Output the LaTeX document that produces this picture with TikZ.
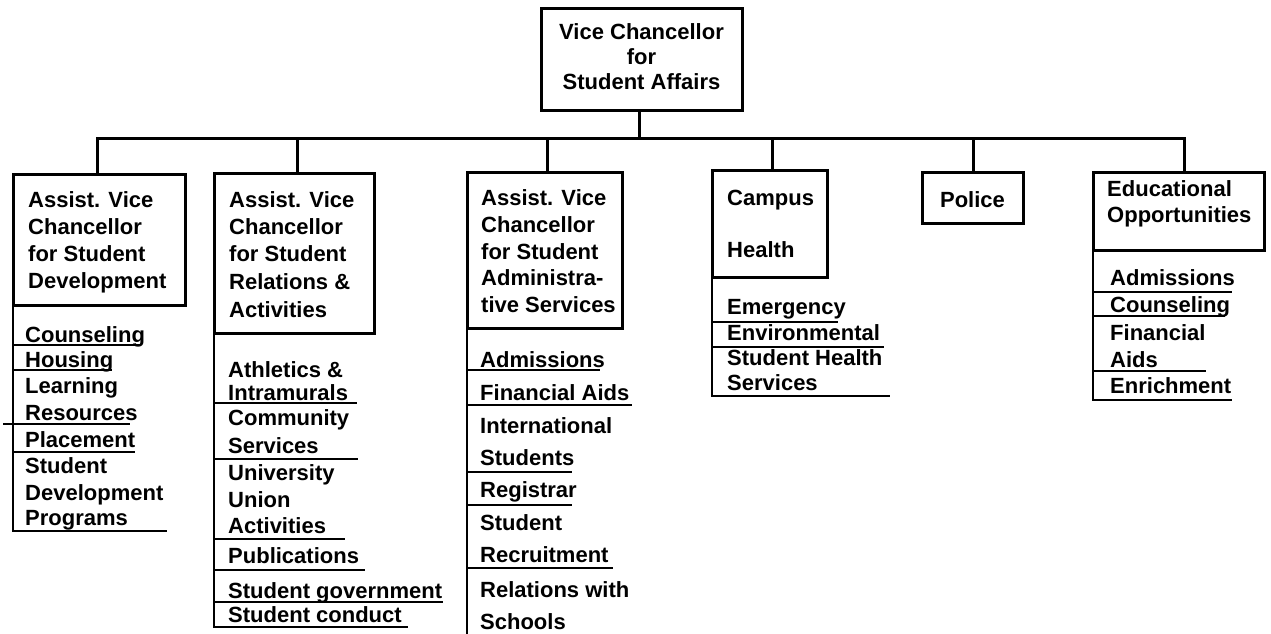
\documentclass[tikz,border=0pt]{standalone}
\usepackage{fontspec}
\setmainfont{Liberation Sans}
\begin{document}
\begin{tikzpicture}[x=1pt,y=-1pt,
  box/.style={draw, line width=3pt, outer sep=0pt, inner sep=0pt, anchor=north west},
  txt/.style={font=\fontsize{22}{26}\selectfont\bfseries, inner sep=0pt, anchor=base west},
  ctxt/.style={txt, anchor=base},
  conn/.style={line width=3pt},
  listline/.style={line width=2.6pt},
  rule/.style={line width=2pt}]
\useasboundingbox (0,0) rectangle (1271,634);

% ---------- boxes ----------
\node[box, minimum width=201pt, minimum height=101pt] (vc) at (541,9) {};
\node[box, minimum width=172pt, minimum height=131pt] (b1) at (13,174) {};
\node[box, minimum width=160pt, minimum height=160pt] (b2) at (214,173) {};
\node[box, minimum width=155pt, minimum height=156pt] (b3) at (467,172) {};
\node[box, minimum width=115pt, minimum height=107pt] (b4) at (712,170) {};
\node[box, minimum width=101pt, minimum height=51pt]  (b5) at (922,172) {};
\node[box, minimum width=171pt, minimum height=78pt]  (b6) at (1093,172) {};

% ---------- box texts ----------
\node[ctxt] (vc1) at (641.5,40)   {Vice Chancellor};
\node[ctxt] (vc2) at (641.5,64.5) {for};
\node[ctxt] (vc3) at (641.5,89)   {Student Affairs};

\node[txt] (b1a) at (28,207) {Assist. Vice};
\node[txt] (b1b) at (28,234) {Chancellor};
\node[txt] (b1c) at (28,261) {for Student};
\node[txt] (b1d) at (28,288) {Development};

\node[txt] (b2a) at (229,207) {Assist. Vice};
\node[txt] (b2b) at (229,234) {Chancellor};
\node[txt] (b2c) at (229,261) {for Student};
\node[txt] (b2d) at (229,289) {Relations \&};
\node[txt] (b2e) at (229,317) {Activities};

\node[txt] (b3a) at (481,205) {Assist. Vice};
\node[txt] (b3b) at (481,232) {Chancellor};
\node[txt] (b3c) at (481,259) {for Student};
\node[txt] (b3d) at (481,285) {Administra-};
\node[txt] (b3e) at (481,312) {tive Services};

\node[txt] (b4a) at (727,205) {Campus};
\node[txt] (b4b) at (727,257) {Health};

\node[ctxt] (b5a) at (972.5,207) {Police};

\node[txt] (b6a) at (1107,196) {Educational};
\node[txt] (b6b) at (1107,222) {Opportunities};

% ---------- connectors ----------
\coordinate (d1) at ([xshift=-2pt]b1.north);
\coordinate (d2) at ([xshift=3pt]b2.north);
\coordinate (d3) at ([xshift=2.5pt]b3.north);
\coordinate (d4) at ([xshift=2.5pt]b4.north);
\coordinate (d5) at ([xshift=0.5pt]b5.north);
\coordinate (d6) at ([xshift=5.5pt]b6.north);

\draw[conn] ([xshift=-2.5pt]vc.south) -- ++(0,28) coordinate (bus);
\draw[conn] (d1) -- (d1 |- bus) -- (d6 |- bus) -- (d6);
\foreach \d in {d2,d3,d4,d5} \draw[conn] (\d) -- (\d |- bus);

% ---------- column 1 list ----------
\node[txt] (l1a) at (25,342) {Counseling};
\node[txt] (l1b) at (25,367) {Housing};
\node[txt] (l1c) at (25,393) {Learning};
\node[txt] (l1d) at (25,420) {Resources};
\node[txt] (l1e) at (25,447) {Placement};
\node[txt] (l1f) at (25,473) {Student};
\node[txt] (l1g) at (25,500) {Development};
\node[txt] (l1h) at (25,525) {Programs};
\draw[listline] (b1.south west) -- (b1.south west |- 0,531) -- (167,531);
\draw[rule] (b1.west |- 0,345) -- (140,345);
\draw[rule] (b1.west |- 0,370) -- (112,370);
\draw[rule] (3,424) -- (130,424);
\draw[rule] (b1.west |- 0,452) -- (135,452);

% ---------- column 2 list ----------
\node[txt] (l2a) at (228,377) {Athletics \&};
\node[txt] (l2b) at (228,400) {Intramurals};
\node[txt] (l2c) at (228,425) {Community};
\node[txt] (l2d) at (228,453) {Services};
\node[txt] (l2e) at (228,480) {University};
\node[txt] (l2f) at (228,507) {Union};
\node[txt] (l2g) at (228,533) {Activities};
\node[txt] (l2h) at (228,563) {Publications};
\node[txt] (l2i) at (228,598) {Student government};
\node[txt] (l2j) at (228,622) {Student conduct};
\draw[listline] (b2.south west) -- (b2.south west |- 0,627) -- (408,627);
\draw[rule] (b2.west |- 0,403) -- (357,403);
\draw[rule] (b2.west |- 0,459) -- (358,459);
\draw[rule] (b2.west |- 0,539) -- (345,539);
\draw[rule] (b2.west |- 0,570) -- (365,570);
\draw[rule] (b2.west |- 0,602) -- (443,602);

% ---------- column 3 list ----------
\node[txt] (l3a) at (480,367) {Admissions};
\node[txt] (l3b) at (480,400) {Financial Aids};
\node[txt] (l3c) at (480,433) {International};
\node[txt] (l3d) at (480,465) {Students};
\node[txt] (l3e) at (480,497) {Registrar};
\node[txt] (l3f) at (480,530) {Student};
\node[txt] (l3g) at (480,562) {Recruitment};
\node[txt] (l3h) at (480,597) {Relations with};
\node[txt] (l3i) at (480,629) {Schools};
\draw[listline] (b3.south west) -- (b3.south west |- 0,636);
\draw[rule] (b3.west |- 0,370) -- (600,370);
\draw[rule] (b3.west |- 0,405) -- (632,405);
\draw[rule] (b3.west |- 0,472) -- (572,472);
\draw[rule] (b3.west |- 0,505) -- (572,505);
\draw[rule] (b3.west |- 0,568) -- (613,568);

% ---------- column 4 list ----------
\node[txt] (l4a) at (727,314) {Emergency};
\node[txt] (l4b) at (727,340) {Environmental};
\node[txt] (l4c) at (727,365) {Student Health};
\node[txt] (l4d) at (727,390) {Services};
\draw[listline] (b4.south west) -- (b4.south west |- 0,396) -- (890,396);
\draw[rule] (b4.west |- 0,322) -- (838,322);
\draw[rule] (b4.west |- 0,347) -- (884,347);

% ---------- column 6 list ----------
\node[txt] (l6a) at (1110,285) {Admissions};
\node[txt] (l6b) at (1110,312) {Counseling};
\node[txt] (l6c) at (1110,340) {Financial};
\node[txt] (l6d) at (1110,367) {Aids};
\node[txt] (l6e) at (1110,393) {Enrichment};
\draw[listline] (b6.south west) -- (b6.south west |- 0,400) -- (1232,400);
\draw[rule] (b6.west |- 0,292) -- (1232,292);
\draw[rule] (b6.west |- 0,316) -- (1225,316);
\draw[rule] (b6.west |- 0,371) -- (1206,371);
\end{tikzpicture}
\end{document}
